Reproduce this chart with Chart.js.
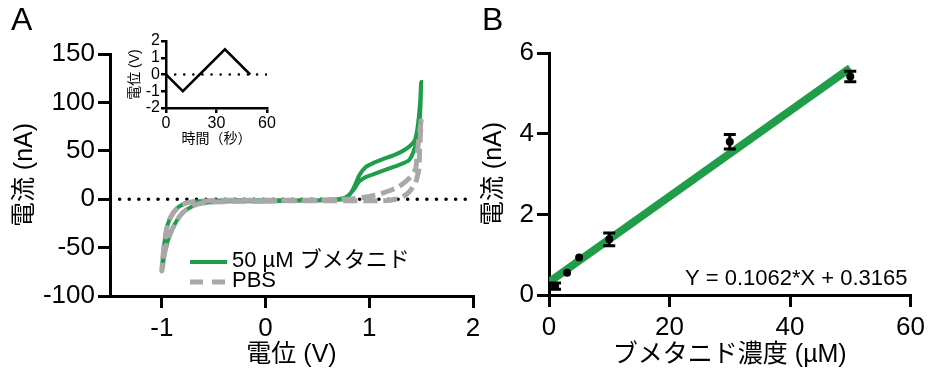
<!DOCTYPE html>
<html>
<head>
<meta charset="utf-8">
<script src="https://cdn.jsdelivr.net/npm/chart.js@4.4.1/dist/chart.umd.min.js"></script>
<style>
  html, body { margin: 0; padding: 0; background: #fff; }
  #page { position: relative; width: 930px; height: 380px; overflow: hidden; }
  .panel { position: absolute; }
  .letter { position: absolute; font: 32px 'Liberation Sans', Arial, sans-serif; color: #000; line-height: 32px; }
</style>
</head>
<body>
<div id="page">
  <div class="panel" style="left:0;top:0;width:500px;height:380px"><canvas id="cvA"></canvas></div>
  <div class="panel" style="left:100px;top:20px;width:200px;height:140px"><canvas id="cvInset"></canvas></div>
  <div class="panel" style="left:470px;top:0;width:460px;height:380px"><canvas id="cvB"></canvas></div>
  <div class="letter" style="left:11px;top:3px">A</div>
  <div class="letter" style="left:482px;top:3px">B</div>
</div>
<script>
/* Bumetanide voltammetry + calibration figure */

const FONT = "'Liberation Sans', Arial, 'Noto Sans CJK JP', sans-serif";
const GREEN = '#1f9d48';
const GRAY = '#a8a8a8';
const BLACK = '#000';

// ---- Panel A: cyclic voltammograms ----
const A_X_TICKS = [-1, 0, 1, 2];
const A_Y_TICKS = [-100, -50, 0, 50, 100, 150];

const BUM_V = [0, -0.3, -0.5, -0.6, -0.68, -0.75, -0.8, -0.85, -0.9, -0.94, -0.97, -1.0,
  -0.99, -0.975, -0.955, -0.93, -0.89, -0.84, -0.78, -0.7, -0.55, -0.3, 0, 0.4, 0.7,
  0.78, 0.82, 0.86, 0.9, 0.963, 1.05, 1.12, 1.25, 1.35, 1.42, 1.446, 1.47, 1.49, 1.5,
  1.495, 1.485, 1.47, 1.446, 1.41, 1.38, 1.3, 1.2, 1.12, 1.02, 0.95, 0.9, 0.85, 0.8, 0.75,
  0.6, 0.3, 0];
const BUM_I = [-2, -2.2, -3, -4, -6, -10, -14, -21, -31, -42, -54, -74,
  -60, -45, -31, -22, -14, -8, -4.5, -2.5, -1.5, -1, -1, -1, -0.5,
  1, 6, 14, 24, 33, 38, 41, 46, 51.6, 58, 63, 78, 100, 121,
  100, 78, 64, 55, 45, 40, 36, 32, 29, 25, 22, 18, 10, 4, 1,
  -1, -1.5, -2];

const PBS_V = [0, -0.3, -0.5, -0.6, -0.68, -0.75, -0.8, -0.85, -0.9, -0.94, -0.97, -1.0,
  -0.99, -0.975, -0.955, -0.93, -0.89, -0.84, -0.78, -0.7, -0.55, -0.3, 0, 0.4, 0.8,
  0.95, 1.09, 1.2, 1.285, 1.38, 1.446, 1.46, 1.475, 1.49, 1.5,
  1.495, 1.485, 1.478, 1.46, 1.446, 1.41, 1.38, 1.33, 1.285, 1.2, 1.09, 0.9, 0.6, 0.3, 0];
const PBS_I = [-2, -2.2, -3, -4, -6, -10, -14, -21, -31, -42, -54, -74,
  -60, -45, -31, -22, -14, -8, -4.5, -2.5, -1.5, -1, -1, -1, 0,
  2, 5, 9, 13, 21, 31, 45, 60, 72, 81,
  70, 50, 31, 22, 17, 11, 7, 3, 0.5, -1, -1.7, -1.5, -1.5, -1.5, -2];

const ZERO_X = [-1.5, 2];
const ZERO_Y = [0, 0];

// ---- Inset: applied waveform ----
const WAVE_T = [0, 10, 35, 50];
const WAVE_V = [0, -1, 1.5, 0];
const WAVE_ZERO_T = [0, 60];
const INSET_X_TICKS = [0, 30, 60];
const INSET_Y_TICKS = [-2, -1, 0, 1, 2];

// ---- Panel B: calibration ----
const CONC = [1, 3, 5, 10, 30, 50];
const CURRENT = [0.22, 0.55, 0.93, 1.38, 3.8, 5.42];
const CURRENT_ERR = [0.08, 0, 0, 0.16, 0.18, 0.13];
const FIT_X = [0, 50];
const FIT_Y = [0.32, 5.63];
const B_X_TICKS = [0, 20, 40, 60];
const B_Y_TICKS = [0, 2, 4, 6];
const FIT_LABEL = 'Y = 0.1062*X + 0.3165';

const pts = (xs, ys) => xs.map((x, i) => ({ x, y: ys[i] }));

function axis(o) {
  return {
    type: 'linear',
    min: o.min, max: o.max,
    afterBuildTicks: s => { s.ticks = o.ticks.map(v => ({ value: v })); },
    afterFit: s => { if (o.width != null) s.width = o.width; if (o.height != null) s.height = o.height; },
    border: { display: true, color: BLACK, width: o.lw },
    grid: { drawOnChartArea: false, drawTicks: true, tickLength: o.tick, color: BLACK, lineWidth: o.lw },
    ticks: { color: BLACK, padding: o.pad, font: { family: FONT, size: o.fs }, maxRotation: 0, autoSkip: false },
    title: { display: true, text: o.title, color: BLACK, padding: o.titlePad, font: { family: FONT, size: o.tfs } }
  };
}

const baseOpts = {
  responsive: true,
  maintainAspectRatio: false,
  animation: false,
  events: [],
  plugins: { legend: { display: false }, tooltip: { enabled: false } }
};

// legend for panel A, drawn inside the plot
const legendA = {
  id: 'legendA',
  afterDraw(chart) {
    const { ctx, chartArea: a } = chart;
    const items = [
      { text: '50 µM ブメタニド', color: GREEN, dash: [], w: 4, dy: -34 },
      { text: 'PBS', color: GRAY, dash: [13, 9], w: 5, dy: -14 }
    ];
    ctx.save();
    ctx.font = `22px ${FONT}`;
    ctx.textBaseline = 'middle';
    items.forEach(it => {
      const y = a.bottom + it.dy;
      ctx.strokeStyle = it.color;
      ctx.lineWidth = it.w;
      ctx.setLineDash(it.dash);
      ctx.beginPath();
      ctx.moveTo(a.left + 80, y);
      ctx.lineTo(a.left + 117, y);
      ctx.stroke();
      ctx.fillStyle = BLACK;
      ctx.fillText(it.text, a.left + 122, y - 1);
    });
    ctx.restore();
  }
};

new Chart(document.getElementById('cvA'), {
  type: 'scatter',
  data: {
    datasets: [
      { data: pts(PBS_V, PBS_I), showLine: true, borderColor: GRAY, borderWidth: 5,
        borderDash: [14, 6], pointRadius: 0, tension: 0.2, order: 1 },
      { data: pts(BUM_V, BUM_I), showLine: true, borderColor: GREEN, borderWidth: 4,
        pointRadius: 0, tension: 0.2, order: 2 },
      { data: pts(ZERO_X, ZERO_Y), showLine: true, borderColor: BLACK, borderWidth: 3.5,
        borderDash: [0.1, 9.5], borderCapStyle: 'round', pointRadius: 0, order: 3 }
    ]
  },
  options: {
    ...baseOpts,
    layout: { padding: { left: 0, top: 54, right: 27, bottom: 0 } },
    scales: {
      x: axis({ min: -1.5, max: 2, ticks: A_X_TICKS, height: 84, lw: 3, tick: 12, pad: 5, fs: 26,
        title: '電位 (V)', tfs: 25, titlePad: { top: 0, bottom: 10 } }),
      y: axis({ min: -100, max: 150, ticks: A_Y_TICKS, width: 110, lw: 3, tick: 12, pad: 3, fs: 26,
        title: '電流 (nA)', tfs: 25, titlePad: { top: 10, bottom: 0 } })
    }
  },
  plugins: [legendA]
});

new Chart(document.getElementById('cvInset'), {
  type: 'scatter',
  data: {
    datasets: [
      { data: pts(WAVE_T, WAVE_V), showLine: true, borderColor: BLACK, borderWidth: 2.5,
        pointRadius: 0, order: 1 },
      { data: pts(WAVE_ZERO_T, [0, 0]), showLine: true, borderColor: BLACK, borderWidth: 2.5,
        borderDash: [0.1, 9], borderCapStyle: 'round', pointRadius: 0, order: 2 }
    ]
  },
  options: {
    ...baseOpts,
    layout: { padding: { left: 0, top: 21, right: 33, bottom: 0 } },
    scales: {
      x: axis({ min: 0, max: 60, ticks: INSET_X_TICKS, height: 52, lw: 2.5, tick: 5, pad: 1, fs: 16,
        title: '時間（秒）', tfs: 14, titlePad: { top: 0, bottom: 12 } }),
      y: axis({ min: -2, max: 2, ticks: INSET_Y_TICKS, width: 66, lw: 2.5, tick: 5, pad: 1, fs: 16,
        title: '電位 (V)', tfs: 14, titlePad: { top: 27, bottom: 0 } })
    }
  }
});

// error bars + fit equation for panel B
const errorBars = {
  id: 'errorBars',
  afterDatasetsDraw(chart) {
    const { ctx, scales: { x, y } } = chart;
    ctx.save();
    ctx.strokeStyle = BLACK;
    ctx.lineWidth = 3;
    CONC.forEach((c, i) => {
      const e = CURRENT_ERR[i];
      if (!e) return;
      const px = x.getPixelForValue(c);
      const top = y.getPixelForValue(CURRENT[i] + e);
      const bot = y.getPixelForValue(CURRENT[i] - e);
      ctx.beginPath();
      ctx.moveTo(px, top); ctx.lineTo(px, bot);
      ctx.moveTo(px - 6, top); ctx.lineTo(px + 6, top);
      ctx.moveTo(px - 6, bot); ctx.lineTo(px + 6, bot);
      ctx.stroke();
    });
    ctx.restore();
  },
  afterDraw(chart) {
    const { ctx, chartArea: a } = chart;
    ctx.save();
    ctx.font = `22px ${FONT}`;
    ctx.fillStyle = BLACK;
    ctx.textAlign = 'right';
    ctx.textBaseline = 'middle';
    ctx.fillText(FIT_LABEL, a.right - 3, a.bottom - 16);
    ctx.restore();
  }
};

new Chart(document.getElementById('cvB'), {
  type: 'scatter',
  data: {
    datasets: [
      { data: pts(CONC, CURRENT), pointRadius: 4, pointBackgroundColor: BLACK,
        pointBorderWidth: 0, order: 1 },
      { data: pts(FIT_X, FIT_Y), showLine: true, borderColor: GREEN, borderWidth: 8,
        pointRadius: 0, order: 2 }
    ]
  },
  options: {
    ...baseOpts,
    layout: { padding: { left: 0, top: 53, right: 19, bottom: 0 } },
    scales: {
      x: axis({ min: 0, max: 60, ticks: B_X_TICKS, height: 85, lw: 3, tick: 12, pad: 5, fs: 26,
        title: 'ブメタニド濃度 (µM)', tfs: 25, titlePad: { top: 0, bottom: 10 } }),
      y: axis({ min: 0, max: 6, ticks: B_Y_TICKS, width: 79, lw: 3, tick: 12, pad: 3, fs: 26,
        title: '電流 (nA)', tfs: 25, titlePad: { top: 9, bottom: 0 } })
    }
  },
  plugins: [errorBars]
});
</script>
</body>
</html>
